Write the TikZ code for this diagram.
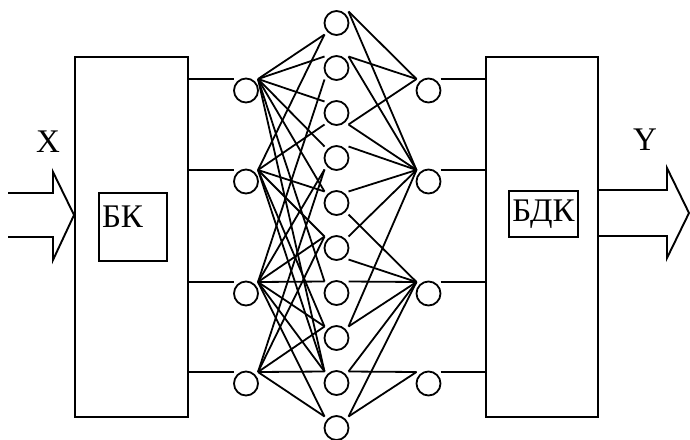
\documentclass[tikz,border=0pt]{standalone}
\usepackage{fontspec}
\setmainfont{Liberation Serif}
\usetikzlibrary{calc}
\begin{document}
\begin{tikzpicture}[x=0.5pt,y=-0.5pt, line width=0.95pt,
  neuron/.style={circle,draw,minimum size=12pt,inner sep=0pt,line width=0.9pt},
  block/.style={draw,inner sep=0pt},
  lbl/.style={font=\fontsize{16.5}{18}\selectfont, inner sep=0pt},
  link/.style={line width=0.9pt}]
\useasboundingbox (0,0) rectangle (690,439);
% main blocks
\node[block, minimum width=56.5pt, minimum height=180pt] (bk) at (131.5,237) {};
\node[block, minimum width=56pt, minimum height=180pt] (bdk) at (542,237) {};
\node[block, minimum width=34pt, minimum height=34pt] (bkin) at (133,227) {};
\node[lbl] (bklbl) at (122.5,217) {БК};
\node[block, lbl, minimum width=34.5pt, minimum height=23pt] (bdkin) at (543.5,214) {БДК};
\node[lbl] (xlbl) at (48,142) {X};
\node[lbl] (ylbl) at (645,140) {Y};
% block arrows
\coordinate (intip) at (bk.west |- 0,215);
\draw (8,193) -- (53,193) -- (53,172) -- (intip) -- (53,260) -- (53,237) -- (8,237);
\coordinate (outa) at (bdk.east |- 0,190);
\coordinate (outb) at (bdk.east |- 0,236);
\draw (outa) -- (667,190) -- (667,168) -- (689,213) -- (667,258) -- (667,236) -- (outb);
% neurons
\foreach \n/\y in {1/90.5,2/181.5,3/293.5,4/383.5}{
  \node[neuron] (i\n) at (246,\y) {};
  \node[neuron] (o\n) at (428.5,\y) {};
  \coordinate (iw\n) at ($(i\n.center)+(-12,-11.5)$);
  \coordinate (ia\n) at ($(i\n.center)+(12,-11.5)$);
  \coordinate (oa\n) at ($(o\n.center)+(-12,-11.5)$);
  \coordinate (oe\n) at ($(o\n.center)+(12,-11.5)$);
  \draw (bk.east |- iw\n) -- (iw\n);
  \draw (oe\n) -- (bdk.west |- oe\n);
}
\foreach \n in {1,...,10}{
  \node[neuron] (h\n) at (336.5,{23+45*(\n-1)}) {};
  \coordinate (hl\n t) at ($(h\n.center)+(-12,-11.5)$);
  \coordinate (hl\n b) at ($(h\n.center)+(-12,11.5)$);
  \coordinate (hr\n t) at ($(h\n.center)+(12,-11.5)$);
  \coordinate (hr\n b) at ($(h\n.center)+(12,11.5)$);
}
% input -> hidden
\foreach \a/\b in {1/1b,1/2t,1/3t,1/4t,1/5t,1/7t,1/9t,
                   2/1b,2/3b,2/5t,2/6t,2/8t,2/9t,
                   3/2b,3/4b,3/6t,3/7t,3/8t,3/9t,3/10t,
                   4/4b,4/6t,4/8t,4/9t,4/10t}
  \draw[link] (ia\a) -- (hl\b);
% hidden -> output
\foreach \a/\b in {1/1t,1/2t,1/3b,
                   2/1t,2/2t,2/3b,2/4t,2/5t,2/6t,2/8t,
                   3/5b,3/6b,3/7t,3/8t,3/9t,3/10t,
                   4/9t,4/10t}
  \draw[link] (hr\b) -- (oa\a);
\end{tikzpicture}
\end{document}
